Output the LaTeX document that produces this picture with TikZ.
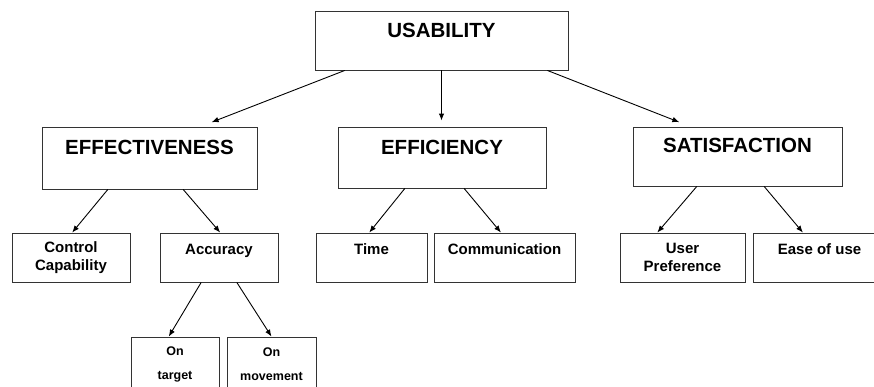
\documentclass[tikz,border=0pt]{standalone}
\usepackage{fontspec}
\setmainfont{Liberation Sans}
\usetikzlibrary{arrows.meta,calc}

\begin{document}
\begin{tikzpicture}[x=1pt, y=-1pt, line width=0.9pt, >={Latex[length=7pt,width=5.5pt]},
    every node/.style={draw=black!80, align=center, inner sep=0pt},
    big/.style={font=\bfseries\fontsize{20.5}{24}\selectfont},
    leaf/.style={font=\bfseries\fontsize{15}{18}\selectfont, minimum height=49pt},
    small/.style={font=\bfseries\fontsize{12.5}{24}\selectfont, minimum height=54pt}]
    \useasboundingbox (0,0) rectangle (874,386);
    \clip (0,0) rectangle (874,386);

    % Raiz
    \node[big, minimum width=253pt, text height=26pt, text depth=33pt] (usab) at (441.5,40.5) {USABILITY};

    % Segundo nivel
    \node[big, minimum width=215pt, text height=27pt, text depth=35pt] (effect) at (149.5,158) {EFFECTIVENESS};
    \node[big, minimum width=208pt, text height=27pt, text depth=34pt] (effic) at (442,157.5) {EFFICIENCY};
    \node[big, minimum width=209pt, text height=25pt, text depth=34pt] (satis) at (737.5,156.5) {SATISFACTION};

    % Hojas
    \node[leaf, minimum width=118pt] (ctrl) at (71,257.5) {Control\\Capability};
    \node[leaf, minimum width=118pt, text height=21pt, text depth=28pt] (accur) at (219,257.5) {Accuracy};
    \node[leaf, minimum width=111pt, text height=21pt, text depth=28pt] (time) at (371.5,257.5) {Time};
    \node[leaf, minimum width=141pt, text height=21pt, text depth=28pt] (comm) at (504.5,257.5) {Communication};
    \node[leaf, minimum width=125pt] (pref) at (682.5,257.5) {User\\Preference};
    \node[leaf, minimum width=133pt, text height=21pt, text depth=28pt] (ease) at (819.5,257.5) {Ease of use};

    % Bajo Accuracy
    \node[small, minimum width=88pt] (ontarget) at (175,364) {On\\target};
    \node[small, minimum width=89pt] (onmove) at (271.5,364) {On\\movement};

    % Flechas desde la raiz
    \draw[->, shorten >=12pt] ($(usab.south west)!0.119!(usab.south east)$) -- ($(effect.north west)!0.736!(effect.north east)$);
    \draw[->, shorten >=6pt] (usab.south) -- (usab.south |- effic.north);
    \draw[->, shorten >=12pt] ($(usab.south west)!0.917!(usab.south east)$) -- ($(satis.north west)!0.276!(satis.north east)$);

    % Flechas del segundo nivel
    \draw[->] ($(effect.south west)!0.307!(effect.south east)$) -- ($(ctrl.north west)!0.51!(ctrl.north east)$);
    \draw[->] ($(effect.south west)!0.656!(effect.south east)$) -- ($(accur.north west)!0.51!(accur.north east)$);
    \draw[->] ($(effic.south west)!0.322!(effic.south east)$) -- ($(time.north west)!0.48!(time.north east)$);
    \draw[->] ($(effic.south west)!0.606!(effic.south east)$) -- ($(comm.north west)!0.475!(comm.north east)$);
    \draw[->] ($(satis.south west)!0.306!(satis.south east)$) -- ($(pref.north west)!0.30!(pref.north east)$);
    \draw[->] ($(satis.south west)!0.627!(satis.south east)$) -- ($(ease.north west)!0.376!(ease.north east)$);

    % Flechas desde Accuracy
    \draw[->] ($(accur.south west)!0.35!(accur.south east)$) -- ($(ontarget.north west)!0.43!(ontarget.north east)$);
    \draw[->] ($(accur.south west)!0.65!(accur.south east)$) -- ($(onmove.north west)!0.5!(onmove.north east)$);
\end{tikzpicture}
\end{document}
